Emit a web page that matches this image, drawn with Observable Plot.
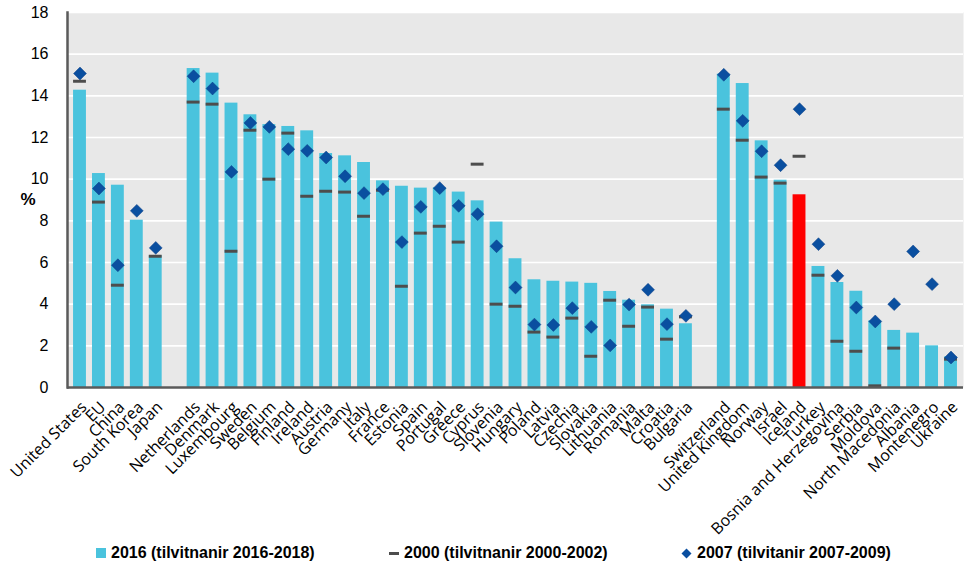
<!DOCTYPE html>
<html>
<head>
<meta charset="utf-8">
<script src="https://cdn.jsdelivr.net/npm/d3@7"></script>
<script src="https://cdn.jsdelivr.net/npm/@observablehq/plot@0.6"></script>
<style>
  html, body { margin: 0; padding: 0; background: #fff; }
  #wrap { position: relative; width: 964px; height: 566px; }
  #legend { position: relative; height: 28px; font-family: "Liberation Sans Narrow", "Liberation Sans", sans-serif; font-weight: bold; font-size: 16px; color: #000; }
  .item { position: absolute; top: 6px; display: flex; align-items: center; white-space: nowrap; }
  .sw { display: inline-block; margin-right: 5px; }
</style>
</head>
<body>
<div id="wrap">
  <div id="chart"></div>
  <div id="legend"></div>
</div>
<script>
const countries = ["United States","EU","China","South Korea","Japan",
  "Netherlands","Denmark","Luxembourg","Sweden","Belgium","Finland","Ireland","Austria","Germany","Italy","France","Estonia","Spain","Portugal","Greece","Cyprus","Slovenia","Hungary","Poland","Latvia","Czechia","Slovakia","Lithuania","Romania","Malta","Croatia","Bulgaria",
  "Switzerland","United Kingdom","Norway","Israel","Iceland","Turkey","Bosnia and Herzegovina","Serbia","Moldova","North Macedonia","Albania","Montenegro","Ukraine"];
const v2016 = [14.27,10.27,9.71,8.03,6.32,
  15.31,15.09,13.65,13.09,12.62,12.53,12.32,11.23,11.12,10.80,9.92,9.66,9.57,9.58,9.38,8.96,7.94,6.18,5.17,5.10,5.06,5.00,4.61,4.19,3.97,3.76,3.06,
  15.04,14.59,11.84,9.95,9.25,5.81,5.04,4.62,3.20,2.74,2.61,2.00,1.47];
const v2000 = [14.70,8.90,4.91,null,6.30,
  13.70,13.60,6.54,12.35,10.00,12.21,9.18,9.42,9.38,8.22,9.47,4.86,7.41,7.74,6.98,10.72,4.00,3.90,2.66,2.42,3.33,1.50,4.19,2.94,3.86,2.32,3.39,
  13.36,11.87,10.10,9.81,11.10,5.39,2.22,1.74,0.08,1.89,null,null,1.36];
const v2007 = [15.07,9.55,5.87,8.48,6.70,
  14.94,14.35,10.35,12.70,12.51,11.44,11.36,11.04,10.14,9.33,9.52,6.98,8.67,9.57,8.72,8.32,6.78,4.80,3.02,3.00,3.81,2.91,2.02,3.98,4.69,3.04,3.44,
  15.01,12.80,11.34,10.67,13.36,6.88,5.36,3.84,3.17,4.00,6.53,4.96,1.44];
const gapsAfter = ["Japan","Bulgaria"];
const highlight = "Iceland";
const yTicks = [0,2,4,6,8,10,12,14,16,18];
const legendLabels = ["2016 (tilvitnanir 2016-2018)","2000 (tilvitnanir 2000-2002)","2007 (tilvitanir 2007-2009)"];

const barColor = "#4ac3dd", hiColor = "#ff0000", dashColor = "#4d4d4d", diaColor = "#0a4fa0";

const domain = [];
countries.forEach((c, i) => { domain.push(c); if (gapsAfter.includes(c)) domain.push("gap" + i); });
const data = countries.map((c, i) => ({country: c, v2016: v2016[i], v2000: v2000[i], v2007: v2007[i]}));
const fmt = d => d.startsWith("gap") ? "" : d;

const chart = Plot.plot({
  width: 964, height: 538,
  marginTop: 12, marginLeft: 67, marginRight: 1, marginBottom: 151,
  x: {domain, padding: 0.32, label: null},
  y: {domain: [0, 18], label: null},
  style: {fontFamily: "'Open Sans', sans-serif", color: "#000", background: "transparent"},
  marks: [
    Plot.frame({fill: "#e8e8e8", stroke: null}),
    Plot.gridY(yTicks, {stroke: "#ffffff", strokeOpacity: 1, strokeWidth: 1.6}),
    Plot.barY(data, {x: "country", y: "v2016", fill: d => d.country === highlight ? hiColor : barColor}),
    Plot.tickY(data.filter(d => d.v2000 != null), {x: "country", y: "v2000", stroke: dashColor, strokeWidth: 3}),
    Plot.dot(data, {x: "country", y: "v2007", symbol: "diamond2", r: 5.8, fill: diaColor, stroke: "#0a3f85", strokeWidth: 0.5}),
    Plot.ruleY([0], {stroke: "#5a5a5a", strokeWidth: 2.5}),
    Plot.frame({anchor: "left", stroke: "#5a5a5a", strokeWidth: 2.5}),
    Plot.axisY(yTicks, {tickSize: 0, tickPadding: 19, fontSize: 16, fontFamily: "'Liberation Sans', sans-serif"}),
    Plot.axisX({tickSize: 0, tickRotate: -45, tickPadding: 17, dx: 4, fontSize: 16, tickFormat: fmt}),
    Plot.text(["%"], {frameAnchor: "left", dx: -47, fontWeight: "bold", fontSize: 17, fontFamily: "'Liberation Sans', sans-serif"})
  ]
});
document.getElementById("chart").appendChild(chart);

const legend = document.getElementById("legend");
const items = [
  {left: 96, sw: `<span class="sw" style="width:10px;height:10px;background:${barColor}"></span>`},
  {left: 389, sw: `<span class="sw" style="width:10px;height:3px;background:${dashColor}"></span>`},
  {left: 681, sw: `<svg class="sw" width="11" height="11" viewBox="-5.5 -5.5 11 11"><path d="M0,-5 L5,0 L0,5 L-5,0Z" fill="${diaColor}"/></svg>`}
];
items.forEach((it, i) => {
  const div = document.createElement("div");
  div.className = "item";
  div.style.left = it.left + "px";
  div.innerHTML = it.sw + `<span>${legendLabels[i]}</span>`;
  legend.appendChild(div);
});
</script>
</body>
</html>
